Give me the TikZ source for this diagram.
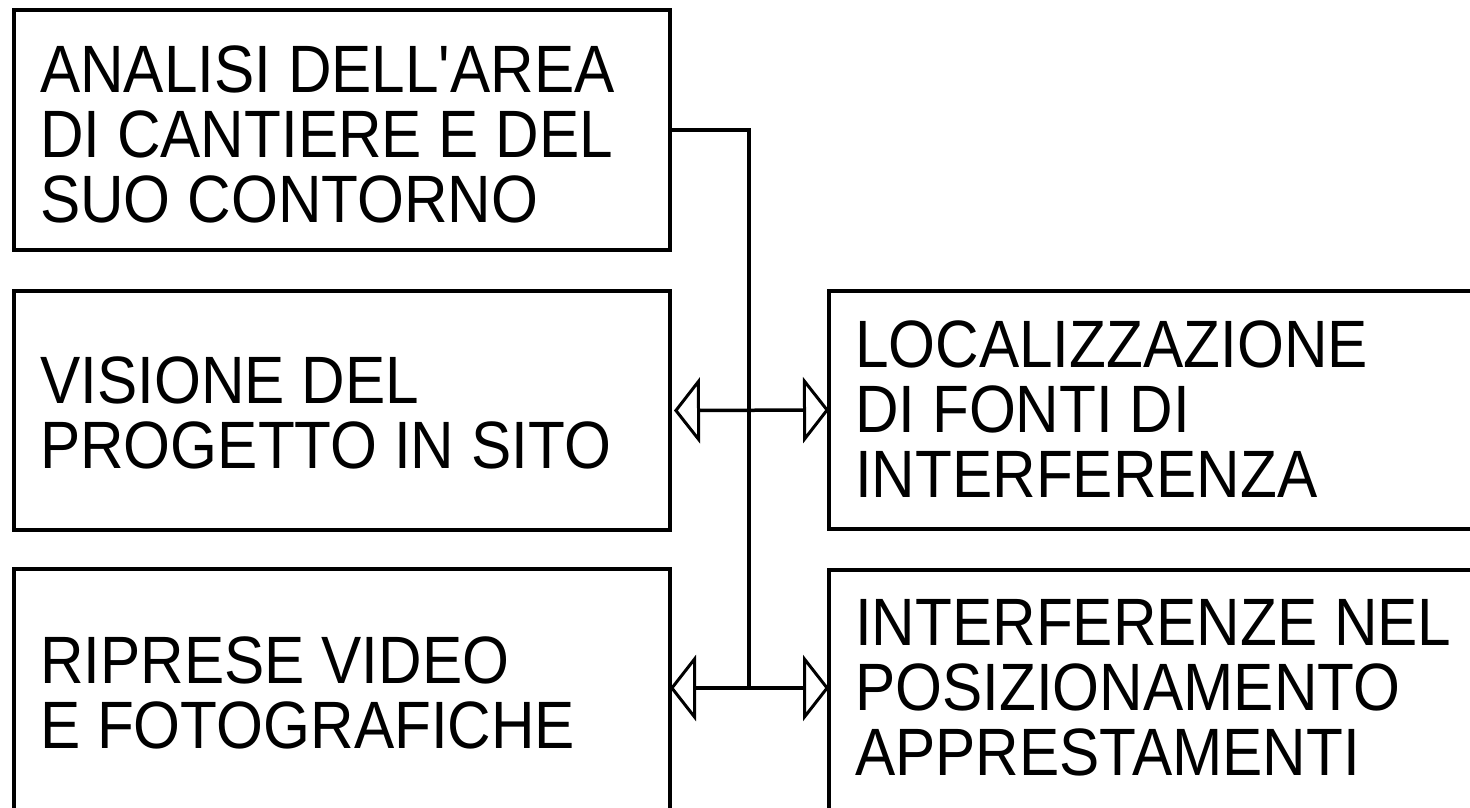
\documentclass[tikz,border=0pt]{standalone}
\usepackage{fontspec}
\newfontfamily\cadfont[FakeStretch=0.9]{Liberation Sans}
\usetikzlibrary{arrows.meta}
\begin{document}
\begin{tikzpicture}[x=1pt,y=-1pt,
  box/.style={draw, line width=4pt, inner sep=0pt, outer sep=0pt},
  boxtext/.style={anchor=base west, align=left, inner sep=0pt,
    font=\cadfont\fontsize{67}{65}\selectfont},
  link/.style={line width=3.5pt},
  opentip/.tip={Triangle[open, length=26pt 0 0, width=66pt 0 0, line width=3pt]},
  both/.style={link, opentip-opentip}]
\clip (0,0) rectangle (1470,807);
\fill[white] (0,0) rectangle (1470,807);

% boxes on the left
\node[box, minimum width=656pt, minimum height=240pt] (A) at (342,130) {};
\node[box, minimum width=656pt, minimum height=239pt] (B) at (342,410.5) {};
\node[box, minimum width=656pt, minimum height=301pt] (C) at (342,719.5) {};
% boxes on the right
\node[box, minimum width=691pt, minimum height=238pt] (D) at (1174.5,410) {};
\node[box, minimum width=691pt, minimum height=300pt] (E) at (1174.5,720) {};

% texts (anchored at the baseline of their last line)
\node[boxtext] (tA) at (40,222) {ANALISI DELL'AREA\\DI CANTIERE E DEL\\SUO CONTORNO};
\node[boxtext] (tB) at (40,468) {VISIONE DEL\\PROGETTO IN SITO};
\node[boxtext] (tC) at (40,748) {RIPRESE VIDEO\\E FOTOGRAFICHE};
\node[boxtext] (tD) at (855,497) {LOCALIZZAZIONE\\DI FONTI DI\\INTERFERENZA};
\node[boxtext] (tE) at (855,775) {INTERFERENZE NEL\\POSIZIONAMENTO\\APPRESTAMENTI};

% connectors
\coordinate (spine) at (749,688);
\draw[link] (A.east) -| (spine);
\draw[both] ([xshift=4pt]B.east) -- (D.west);
\draw[both] (C.east |- spine) -- (E.west |- spine);
\end{tikzpicture}
\end{document}
